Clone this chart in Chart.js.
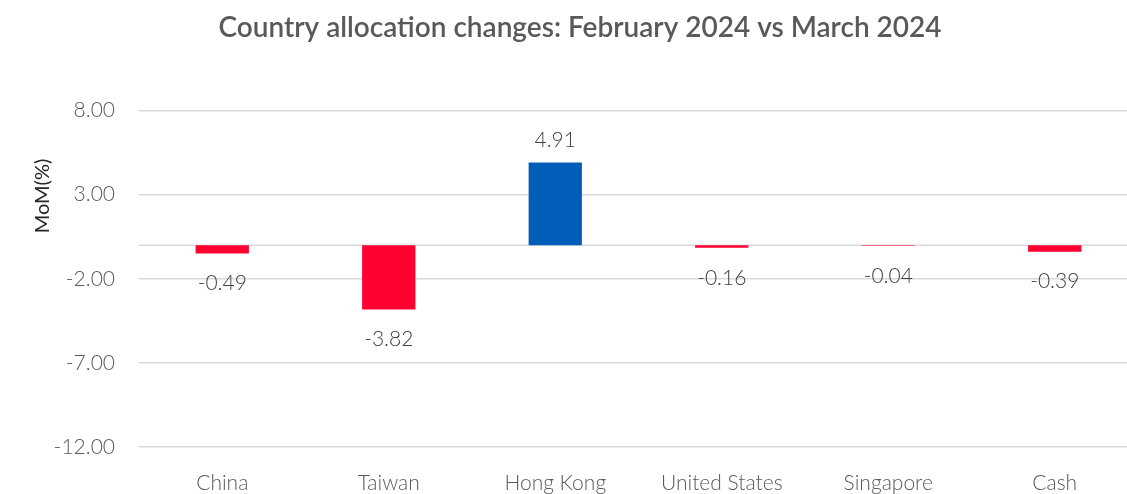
<!DOCTYPE html>
<html>
<head>
<meta charset="utf-8">
<script src="https://cdn.jsdelivr.net/npm/chart.js@4.4.1/dist/chart.umd.min.js"></script>
<style>
  html, body { margin: 0; padding: 0; background: #fff; overflow: hidden; }
  #wrap { width: 1138px; height: 494px; position: relative; }
</style>
</head>
<body>
<div id="wrap"><canvas id="alloc"></canvas></div>
<script>
var countries = ["China", "Taiwan", "Hong Kong", "United States", "Singapore", "Cash"];
var momChange = [-0.49, -3.82, 4.91, -0.16, -0.04, -0.39];
var yTicks = [-12, -7, -2, 3, 8];

const FONT = "Lato, 'Open Sans', sans-serif";

// value labels above / below each bar
const barLabels = {
  id: "barLabels",
  afterDatasetsDraw(chart) {
    const ctx = chart.ctx;
    const meta = chart.getDatasetMeta(0);
    ctx.save();
    ctx.font = "300 21px " + FONT;
    ctx.fillStyle = "#404040";
    ctx.textAlign = "center";
    ctx.textBaseline = "middle";
    meta.data.forEach((bar, i) => {
      const v = momChange[i];
      const y = v >= 0 ? bar.y - 22 : bar.y + 30;
      ctx.fillText(v.toFixed(2), bar.x, y);
    });
    ctx.restore();
  },
};

// y axis title sits higher than the axis middle in the original
const yTitle = {
  id: "yTitle",
  afterDraw(chart) {
    const ctx = chart.ctx;
    ctx.save();
    ctx.translate(43, 196);
    ctx.rotate(-Math.PI / 2);
    ctx.font = "400 20px " + FONT;
    ctx.fillStyle = "#262626";
    ctx.textAlign = "center";
    ctx.textBaseline = "middle";
    ctx.fillText("MoM(%)", 0, 0);
    ctx.restore();
  },
};

// zero line drawn like the other gridlines
const zeroLine = {
  id: "zeroLine",
  beforeDatasetsDraw(chart) {
    const y = chart.scales.y.getPixelForValue(0);
    const a = chart.chartArea;
    const ctx = chart.ctx;
    ctx.save();
    ctx.strokeStyle = "#d9d9d9";
    ctx.lineWidth = 1.5;
    ctx.beginPath();
    ctx.moveTo(a.left, y);
    ctx.lineTo(a.right, y);
    ctx.stroke();
    ctx.restore();
  },
};

const data_alloc = {
  labels: countries,
  datasets: [
    {
      label: "MoM(%)",
      data: momChange,
      backgroundColor: momChange.map((v) => (v >= 0 ? "#005eb8" : "#ff0030")),
      borderWidth: 0,
      categoryPercentage: 1,
      barPercentage: 0.32,
    },
  ],
};

const config_alloc = {
  type: "bar",
  data: data_alloc,
  options: {
    responsive: true,
    maintainAspectRatio: false,
    animation: false,
    layout: { padding: { left: 22, right: 0, top: 0, bottom: 0 } },
    scales: {
      x: {
        afterFit(scale) { scale.height = 47; },
        grid: { display: false, drawTicks: false },
        border: { display: false },
        ticks: {
          color: "#595959",
          padding: 24,
          maxRotation: 0,
          font: { family: FONT, size: 21, weight: 300 },
        },
      },
      y: {
        min: -12,
        max: 8,
        afterFit(scale) { scale.width = 117; },
        afterBuildTicks(scale) { scale.ticks = yTicks.map((v) => ({ value: v })); },
        grid: {
          color: "#d9d9d9",
          lineWidth: 1.5,
          drawTicks: false,
        },
        border: { display: false },
        ticks: {
          color: "#595959",
          padding: 24,
          font: { family: FONT, size: 21, weight: 300 },
          callback: (v) => v.toFixed(2),
        },
      },
    },
    plugins: {
      title: {
        display: true,
        text: "Country allocation changes: February 2024 vs March 2024",
        color: "#595959",
        font: { family: FONT, size: 28, weight: 600 },
        padding: { top: 11, bottom: 66 },
      },
      legend: { display: false },
      tooltip: { enabled: false },
    },
  },
  plugins: [zeroLine, barLabels, yTitle],
};

const alloc = new Chart(document.getElementById("alloc"), config_alloc);
</script>
</body>
</html>
